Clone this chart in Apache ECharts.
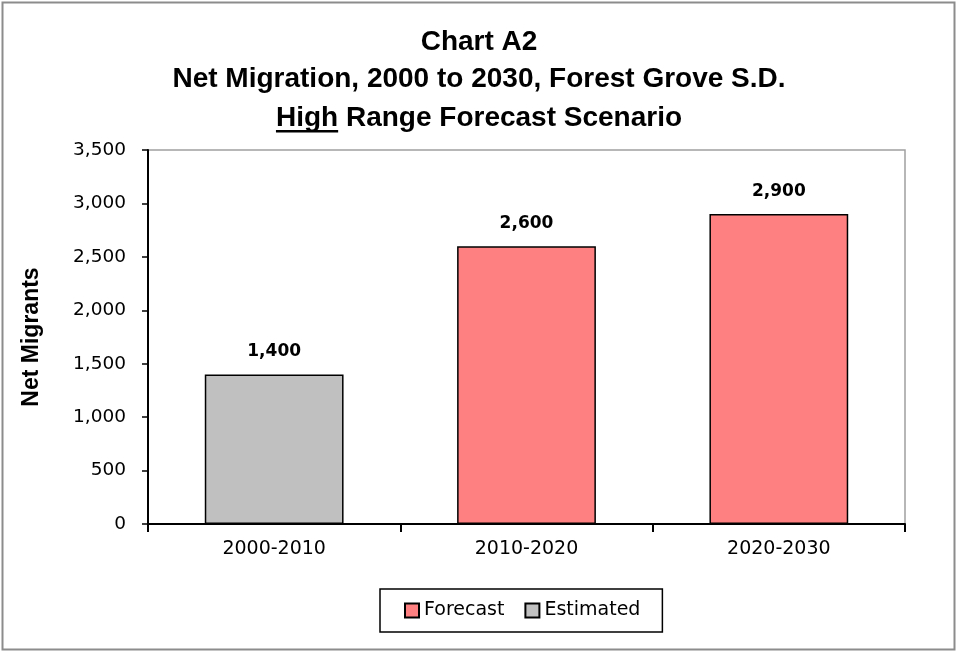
<!DOCTYPE html>
<html>
<head>
<meta charset="utf-8">
<title>Chart A2</title>
<script src="https://cdn.jsdelivr.net/npm/echarts@6/dist/echarts.min.js"></script>
<style>
  html, body { margin: 0; padding: 0; background: #fff; }
  #chart { width: 958px; height: 653px; }
</style>
</head>
<body>
<div id="chart"></div>
<script>
// data
var categories = ['2000-2010', '2010-2020', '2020-2030'];
var forecast = ['-', 2600, 2900];
var estimated = [1400, '-', '-'];
var yTicks = { min: 0, max: 3500, step: 500 };

var titleFont = '"Liberation Sans", Arial, sans-serif';
var tickFont = '"DejaVu Sans", Verdana, sans-serif';

function comma (v) {
  return Number(v).toLocaleString('en-US');
}

// measure title line 3 so the underline under "High" lands in the right place
var ctx = document.createElement('canvas').getContext('2d');
ctx.font = 'bold 28px ' + titleFont;
var line3 = 'High Range Forecast Scenario';
var w3 = ctx.measureText(line3).width;
var wHigh = ctx.measureText('High').width;
var cx = 479;
var x3 = cx - w3 / 2;

var myChart = echarts.init(document.getElementById('chart'));
var option = {
  animation: false,
  graphic: [
    {
      type: 'rect',
      shape: { x: 2.5, y: 2.5, width: 952, height: 647 },
      style: { fill: 'none', stroke: '#8c8c8c', lineWidth: 2 }
    },
    {
      type: 'text', x: cx, y: 42,
      style: { text: 'Chart A2', font: 'bold 28px ' + titleFont, align: 'center', verticalAlign: 'middle', fill: '#000' }
    },
    {
      type: 'text', x: cx, y: 79,
      style: { text: 'Net Migration, 2000 to 2030, Forest Grove S.D.', font: 'bold 28px ' + titleFont, align: 'center', verticalAlign: 'middle', fill: '#000' }
    },
    {
      type: 'text', x: x3, y: 118,
      style: { text: line3, font: 'bold 28px ' + titleFont, align: 'left', verticalAlign: 'middle', fill: '#000' }
    },
    {
      type: 'rect',
      shape: { x: x3, y: 130, width: wHigh, height: 2.5 },
      style: { fill: '#000' }
    }
  ],
  color: ['#FF8080', '#C0C0C0'],
  legend: {
    data: ['Forecast', 'Estimated'],
    left: 380,
    top: 589,
    padding: [12, 22, 12, 24],
    itemGap: 20,
    itemWidth: 14,
    itemHeight: 14,
    icon: 'rect',
    borderColor: '#000',
    borderWidth: 1.5,
    textStyle: { fontFamily: tickFont, fontSize: 19, color: '#000' }
  },
  grid: {
    left: 148,
    right: 53,
    top: 150,
    bottom: 129,
    show: true,
    borderColor: '#a0a0a0',
    borderWidth: 1.5
  },
  xAxis: {
    type: 'category',
    data: categories,
    axisLine: { lineStyle: { color: '#000', width: 2 } },
    axisTick: { show: true, length: 8, lineStyle: { color: '#000', width: 2 } },
    axisLabel: { margin: 16, fontFamily: tickFont, fontSize: 19, color: '#000' }
  },
  yAxis: {
    type: 'value',
    min: yTicks.min,
    max: yTicks.max,
    interval: yTicks.step,
    name: 'Net Migrants',
    nameLocation: 'middle',
    nameRotate: 90,
    nameGap: 105,
    nameTextStyle: { fontFamily: titleFont, fontWeight: 'bold', fontSize: 23, color: '#000' },
    axisLine: { show: true, lineStyle: { color: '#000', width: 2 } },
    axisTick: { show: true, length: 6, lineStyle: { color: '#000', width: 1.5 } },
    splitLine: { show: false },
    axisLabel: { margin: 22, fontFamily: tickFont, fontSize: 18.5, color: '#000', formatter: comma }
  },
  series: [
    {
      name: 'Forecast',
      type: 'bar',
      stack: 'all',
      barWidth: '55%',
      data: forecast,
      itemStyle: { borderColor: '#000', borderWidth: 1.5 },
      label: {
        show: true, position: 'top', distance: 14,
        fontFamily: tickFont, fontWeight: 'bold', fontSize: 17, color: '#000',
        formatter: function (p) { return comma(p.value) }
      }
    },
    {
      name: 'Estimated',
      type: 'bar',
      stack: 'all',
      barWidth: '55%',
      data: estimated,
      itemStyle: { borderColor: '#000', borderWidth: 1.5 },
      label: {
        show: true, position: 'top', distance: 14,
        fontFamily: tickFont, fontWeight: 'bold', fontSize: 17, color: '#000',
        formatter: function (p) { return comma(p.value) }
      }
    }
  ]
};
myChart.setOption(option);
</script>
</body>
</html>
